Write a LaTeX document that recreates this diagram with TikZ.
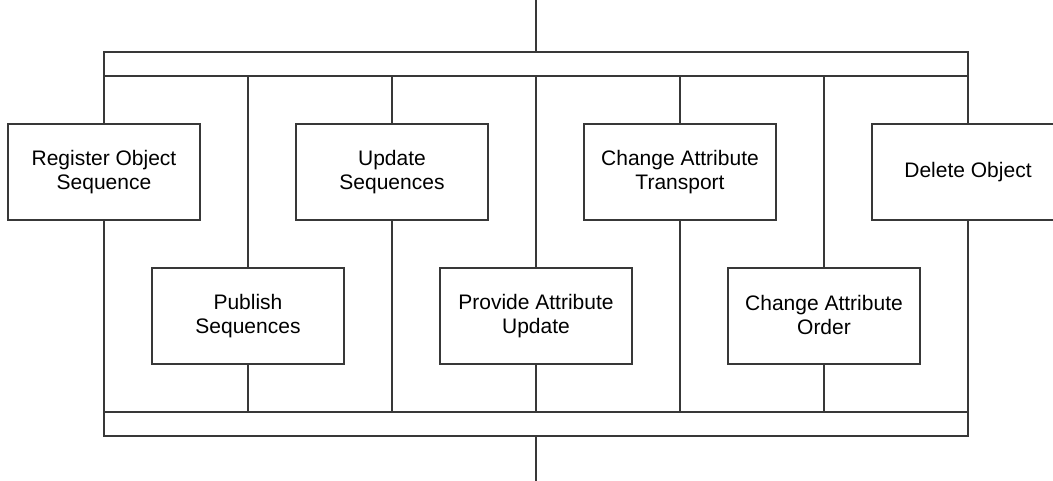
\documentclass[tikz,border=0pt]{standalone}
\usepackage{fontspec}
\setmainfont{Liberation Sans}
\newcommand\mystrut{\vrule height 14pt depth 2pt width 0pt}
\begin{document}
\begin{tikzpicture}[x=1pt,y=-1pt,
  ln/.style={draw=black!78,line width=1.2pt},
  proc/.style={ln,fill=white,minimum width=192pt,minimum height=96pt,inner sep=0pt,align=center,font=\fontsize{21}{24}\selectfont},
  bar/.style={ln,minimum width=864pt,minimum height=24pt,inner sep=0pt}]
\useasboundingbox (0,0) rectangle (1053,481);
\clip (0,0) rectangle (1053,481);
\node[bar] (topbar) at (536,64) {};
\node[bar] (botbar) at (536,424) {};
\coordinate (tin) at (536,0);
\coordinate (bout) at (536,481);
\node[proc] (reg) at (104,172) {\mystrut Register Object\\\mystrut Sequence};
\node[proc] (upd) at (392,172) {\mystrut Update\\\mystrut Sequences};
\node[proc] (cat) at (680,172) {\mystrut Change Attribute\\\mystrut Transport};
\node[proc] (del) at (968,172) {\mystrut Delete Object};
\node[proc] (pub) at (248,316) {\mystrut Publish\\\mystrut Sequences};
\node[proc] (pau) at (536,316) {\mystrut Provide Attribute\\\mystrut Update};
\node[proc] (cao) at (824,316) {\mystrut Change Attribute\\\mystrut Order};
\draw[ln] (tin) -- (topbar.north);
\draw[ln] (botbar.south) -- (bout);
\foreach \n in {reg,upd,cat,del,pub,pau,cao}{
  \draw[ln] (\n.north |- topbar.south) -- (\n.north);
  \draw[ln] (\n.south) -- (\n.south |- botbar.north);
}
\end{tikzpicture}
\end{document}
